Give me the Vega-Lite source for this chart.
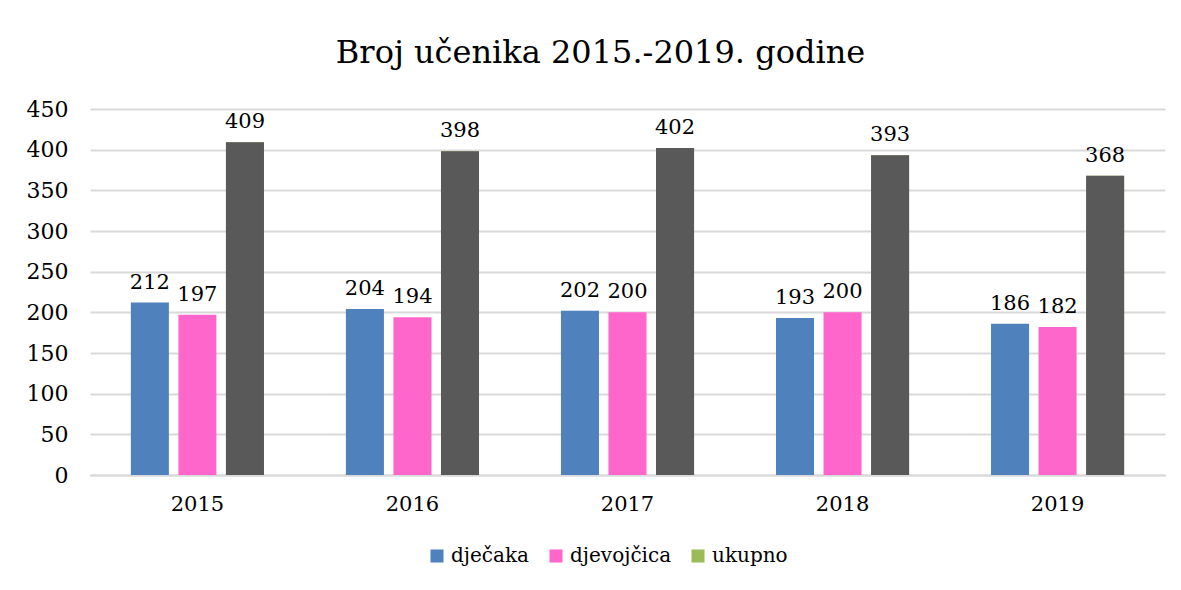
{
  "$schema": "https://vega.github.io/schema/vega-lite/v6.json",
  "width": 1075,
  "height": 366,
  "autosize": "none",
  "padding": {"left": 90, "top": 109, "right": 16, "bottom": 115},
  "background": "white",
  "title": {
    "text": "Broj učenika 2015.-2019. godine",
    "font": "DejaVu Serif",
    "fontSize": 32,
    "fontWeight": "normal",
    "color": "#000000",
    "anchor": "middle",
    "dx": -27,
    "offset": 28
  },
  "data": {
    "values": [
      {"godina": "2015", "serija": "dječaka", "broj": 212},
      {"godina": "2015", "serija": "djevojčica", "broj": 197},
      {"godina": "2015", "serija": "ukupno", "broj": 409},
      {"godina": "2016", "serija": "dječaka", "broj": 204},
      {"godina": "2016", "serija": "djevojčica", "broj": 194},
      {"godina": "2016", "serija": "ukupno", "broj": 398},
      {"godina": "2017", "serija": "dječaka", "broj": 202},
      {"godina": "2017", "serija": "djevojčica", "broj": 200},
      {"godina": "2017", "serija": "ukupno", "broj": 402},
      {"godina": "2018", "serija": "dječaka", "broj": 193},
      {"godina": "2018", "serija": "djevojčica", "broj": 200},
      {"godina": "2018", "serija": "ukupno", "broj": 393},
      {"godina": "2019", "serija": "dječaka", "broj": 186},
      {"godina": "2019", "serija": "djevojčica", "broj": 182},
      {"godina": "2019", "serija": "ukupno", "broj": 368}
    ]
  },
  "encoding": {
    "x": {
      "field": "godina",
      "type": "nominal",
      "scale": {"paddingInner": 0.381, "paddingOuter": 0.19},
      "axis": {
        "title": null,
        "labelAngle": 0,
        "labelFont": "DejaVu Serif",
        "labelFontSize": 21,
        "labelColor": "#000000",
        "labelPadding": 18,
        "ticks": false,
        "domainColor": "#d9d9d9",
        "domainWidth": 2
      }
    },
    "xOffset": {
      "field": "serija",
      "type": "nominal",
      "scale": {"domain": ["dječaka", "djevojčica", "ukupno"], "paddingInner": 0.2, "paddingOuter": 0}
    },
    "y": {
      "field": "broj",
      "type": "quantitative",
      "scale": {"domain": [0, 450]},
      "axis": {
        "title": null,
        "values": [0, 50, 100, 150, 200, 250, 300, 350, 400, 450],
        "labelFont": "DejaVu Serif",
        "labelFontSize": 22,
        "labelColor": "#000000",
        "labelPadding": 22,
        "ticks": false,
        "domain": false,
        "gridColor": "#d9d9d9",
        "gridWidth": 2
      }
    }
  },
  "layer": [
    {
      "mark": {"type": "bar"},
      "encoding": {
        "color": {
          "field": "serija",
          "type": "nominal",
          "scale": {"domain": ["dječaka", "djevojčica", "ukupno"], "range": ["#4f81bd", "#ff66cc", "#9bbb59"]},
          "legend": {
            "title": null,
            "orient": "none",
            "legendX": 337,
            "legendY": 437,
            "direction": "horizontal",
            "symbolType": "square",
            "symbolSize": 170,
            "symbolStrokeWidth": 0,
            "symbolOpacity": 1,
            "labelFont": "DejaVu Serif",
            "labelFontSize": 20,
            "labelColor": "#000000",
            "columnPadding": 16,
            "labelOffset": 4
          }
        }
      }
    },
    {
      "transform": [{"filter": "datum.serija === 'ukupno'"}],
      "mark": {"type": "bar", "color": "#595959"}
    },
    {
      "mark": {"type": "text", "baseline": "bottom", "dy": -10, "font": "DejaVu Serif", "fontSize": 21, "color": "#000000"},
      "encoding": {"text": {"field": "broj", "type": "quantitative"}}
    }
  ],
  "config": {"view": {"stroke": null}}
}
